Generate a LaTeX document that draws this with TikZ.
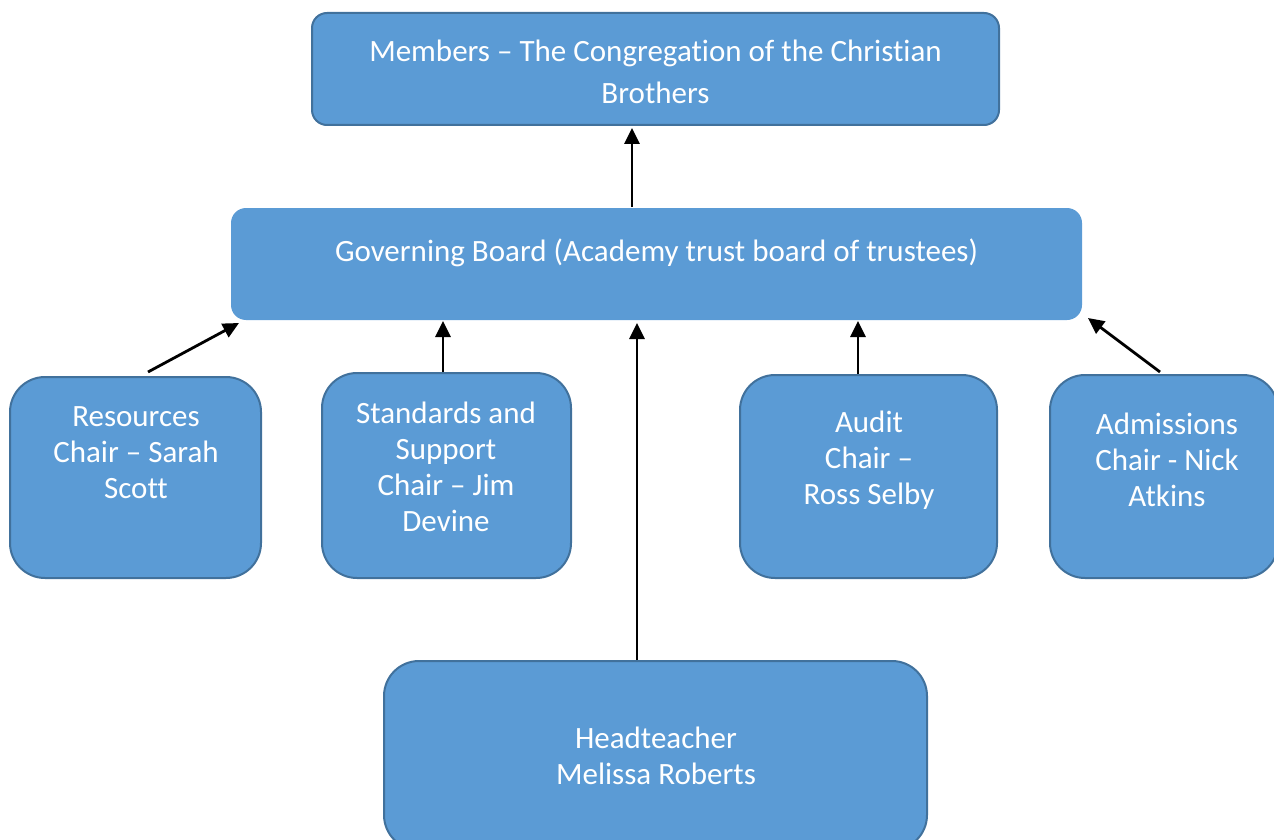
\documentclass[tikz,border=0pt]{standalone}
\usepackage{fontspec}
\setmainfont{Carlito}[Ligatures={NoCommon}]
\usetikzlibrary{arrows.meta,positioning}
\definecolor{boxfill}{RGB}{91,155,213}
\definecolor{boxline}{RGB}{65,113,156}
\begin{document}
\begin{tikzpicture}[x=1pt,y=-1pt,>={Triangle[length=16pt,width=15pt]},
		box/.style={draw=boxline,line width=2pt,fill=boxfill,rounded corners=35pt,inner sep=0pt},
		wide/.style={box,rounded corners=15pt},
		txt/.style={text=white,align=center,font=\fontsize{31}{36}\selectfont,inner sep=0pt},
		conn/.style={->,line width=2.8pt}]
		\useasboundingbox (0,0) rectangle (1274,840);
		% boxes
		\node[wide,minimum width=687pt,minimum height=112pt] (mem) at (655.5,69) {};
		\node[wide,draw=none,minimum width=851pt,minimum height=112pt] (gov) at (656.5,264) {};
		\node[box,minimum width=251pt,minimum height=201pt] (res) at (135.5,477.5) {};
		\node[box,minimum width=249pt,minimum height=205pt] (std) at (446.5,475.5) {};
		\node[box,minimum width=257pt,minimum height=203pt] (aud) at (868.5,476.5) {};
		\node[box,minimum width=228pt,minimum height=203pt] (adm) at (1164,476.5) {};
		\node[box,minimum width=543pt,minimum height=189pt] (head) at (655.5,755.5) {};
		% texts
		\node[txt] (mem-t) at (655.5,72) {Members -- The Congregation of the Christian\\[6pt]Brothers};
		\node[txt] (gov-t) at (656.5,253) {Governing Board (Academy trust board of trustees)};
		\node[txt] (res-t) at (136,453) {Resources\\Chair -- Sarah\\Scott};
		\node[txt] (std-t) at (446,467) {Standards and\\Support\\Chair -- Jim\\Devine};
		\node[txt] (aud-t) at (869,460) {Audit\\Chair --\\Ross Selby};
		\node[txt] (adm-t) at (1167,460) {Admissions\\Chair - Nick\\Atkins};
		\node[txt] (head-t) at (656,756) {Headteacher\\Melissa Roberts};
		% connectors
		\draw[conn] ([xshift=-24.5pt]gov.north) -- ([xshift=-23.5pt,yshift=-2pt]mem.south);
		\draw[conn] ([xshift=12.5pt,yshift=4pt]res.north) -- ([xshift=9pt,yshift=-2pt]gov.south west);
		\draw[conn] ([xshift=-3.5pt]std.north) -- ([xshift=-3.5pt]gov.south -| std.north);
		\draw[conn] ([xshift=-18.5pt]head.north) -- ([xshift=-19.5pt,yshift=-2pt]gov.south);
		\draw[conn] ([xshift=-10.5pt]aud.north) -- ([xshift=-10.5pt]gov.south -| aud.north);
		\draw[conn] ([xshift=-4pt,yshift=2pt]adm.north) -- ([xshift=5pt,yshift=3pt]gov.south east);
\end{tikzpicture}
\end{document}
